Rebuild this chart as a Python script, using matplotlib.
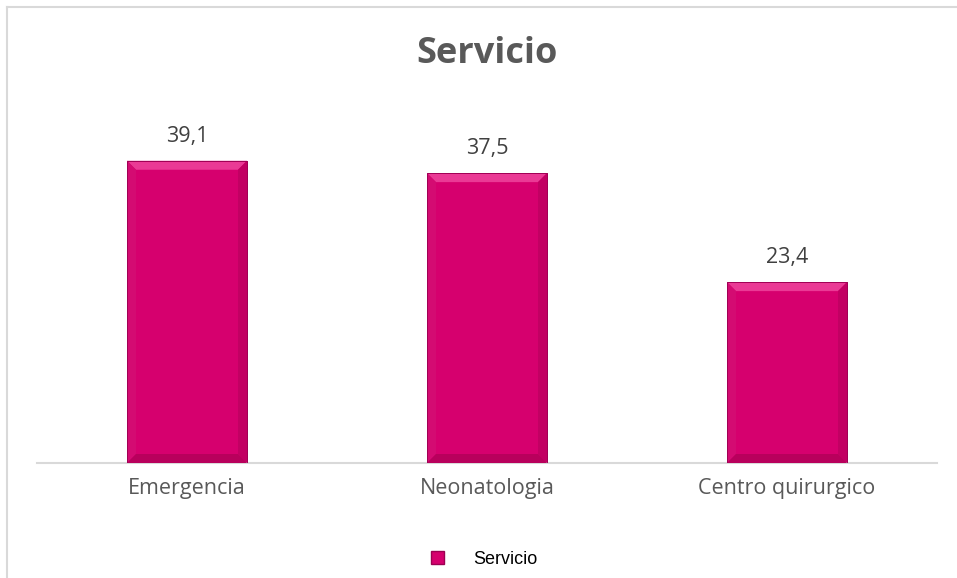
import matplotlib.pyplot as plt
from matplotlib.patches import Polygon, Patch
from matplotlib.lines import Line2D
import numpy as np

categories = ["Emergencia", "Neonatologia", "Centro quirurgico"]
values = [39.1, 37.5, 23.4]
labels = ["39,1", "37,5", "23,4"]
title = "Servicio"
series_name = "Servicio"

face = "#D6006E"

fig = plt.figure(figsize=(9.57, 5.78), dpi=100)
W, H = 957, 578
ax = fig.add_axes([37 / W, (H - 463) / H, 900 / W, 363 / H])

x = np.arange(len(categories))
bars = ax.bar(x, values, width=0.4, color=face, edgecolor="#9C0052", linewidth=0.6, zorder=2)
ax.set_xlim(-0.5, 2.5)
ax.set_ylim(0, 46.96)

# bevel facets on each bar
bx = 9 / 300.0
by = 9 / 7.73
for b in bars:
    x0, w, h = b.get_x(), b.get_width(), b.get_height()
    x1 = x0 + w
    top = [(x0, h), (x1, h), (x1 - bx, h - by), (x0 + bx, h - by)]
    left = [(x0, 0), (x0, h), (x0 + bx, h - by), (x0 + bx, by)]
    right = [(x1, 0), (x1, h), (x1 - bx, h - by), (x1 - bx, by)]
    bottom = [(x0, 0), (x1, 0), (x1 - bx, by), (x0 + bx, by)]
    for pts, c in [(top, "#EA3A95"), (left, "#D40B72"), (right, "#C20063"), (bottom, "#B8005C")]:
        ax.add_patch(Polygon(pts, closed=True, facecolor=c, edgecolor="none", zorder=3))
    ax.add_patch(plt.Rectangle((x0, 0), w, h, fill=False, edgecolor="#A00055", linewidth=0.7, zorder=4))

for xi, v, lab in zip(x, values, labels):
    ax.annotate(lab, (xi, v), xytext=(0, 10), textcoords="offset points", ha="center", va="bottom",
                fontsize=15.5, color="#404040", family="Open Sans")

for s in ["top", "right", "left"]:
    ax.spines[s].set_visible(False)
ax.spines["bottom"].set_color("#D9D9D9")
ax.spines["bottom"].set_linewidth(1.5)
ax.set_yticks([])
ax.set_xticks(x)
ax.set_xticklabels(categories, fontsize=15.5, color="#595959", family="Open Sans")
ax.tick_params(axis="x", length=0, pad=11)

fig.text(487 / W, 1 - 54 / H, title, ha="center", va="center", fontsize=26, fontweight="bold",
         color="#595959", family="Open Sans")

handle = Patch(facecolor=face, edgecolor="#9C0052")
fig.legend([handle], [series_name], loc="center", bbox_to_anchor=(484 / W, 1 - 559 / H), frameon=False,
           handlelength=0.75, handleheight=0.75, handletextpad=1.6,
           prop={"family": "Liberation Sans", "size": 13})

# chart frame
fig.add_artist(Line2D([6.5 / W, 6.5 / W], [0, 1 - 7 / H], color="#D9D9D9", linewidth=1.5))
fig.add_artist(Line2D([6.5 / W, 1], [1 - 7 / H, 1 - 7 / H], color="#D9D9D9", linewidth=1.5))

fig.savefig("out.png", dpi=100)
